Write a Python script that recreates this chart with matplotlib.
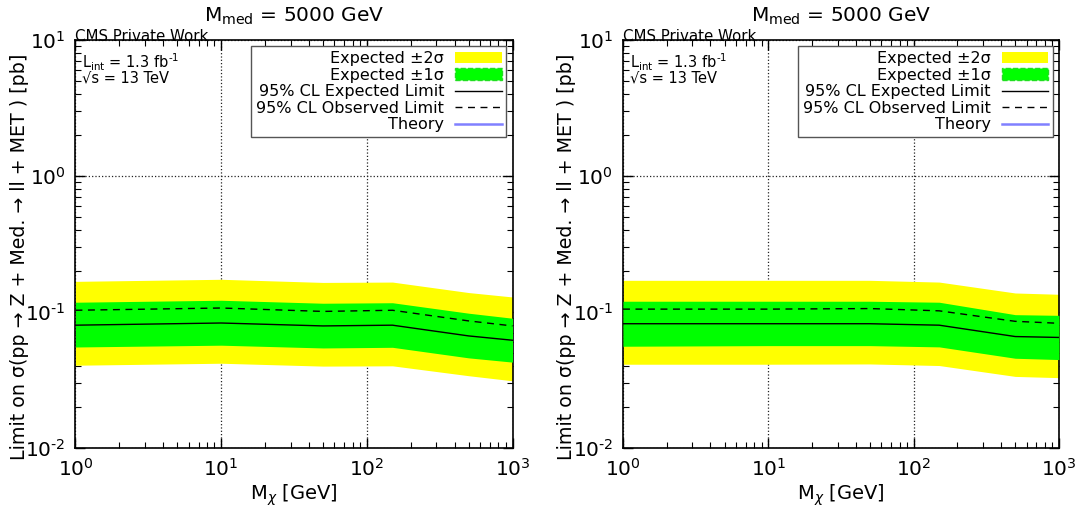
import numpy as np
import matplotlib
matplotlib.use("Agg")
import matplotlib.pyplot as plt
from matplotlib.lines import Line2D
from matplotlib.patches import Patch
from matplotlib.ticker import FuncFormatter

# dark matter mass points [GeV]
mchi = [1, 10, 50, 150, 500, 1000]

# left panel limits [pb]
left_up2 = [0.168, 0.174, 0.165, 0.166, 0.139, 0.129]
left_up1 = [0.118, 0.122, 0.116, 0.117, 0.098, 0.090]
left_obs = [0.103, 0.107, 0.101, 0.103, 0.086, 0.079]
left_exp = [0.080, 0.083, 0.079, 0.080, 0.0667, 0.062]
left_dn1 = [0.0553, 0.057, 0.0544, 0.055, 0.046, 0.0428]
left_dn2 = [0.0406, 0.042, 0.040, 0.0402, 0.034, 0.0312]

# right panel limits [pb]
right_up2 = [0.171, 0.171, 0.171, 0.166, 0.138, 0.135]
right_up1 = [0.120, 0.120, 0.120, 0.118, 0.0956, 0.0945]
right_obs = [0.105, 0.105, 0.106, 0.102, 0.0854, 0.0826]
right_exp = [0.082, 0.082, 0.082, 0.080, 0.066, 0.065]
right_dn1 = [0.056, 0.0566, 0.0566, 0.0554, 0.0457, 0.0447]
right_dn2 = [0.0413, 0.0413, 0.0415, 0.0404, 0.0336, 0.0329]

panels = [
    (left_up2, left_up1, left_obs, left_exp, left_dn1, left_dn2),
    (right_up2, right_up1, right_obs, right_exp, right_dn1, right_dn2),
]


# 10^n labels with a short hyphen in the exponent
def pow10(v, pos):
    e = int(round(np.log10(v)))
    return r"$\mathdefault{10^{%s}}$" % str(e).replace("-", "\u2010")


fig = plt.figure(figsize=(10.81, 5.15), dpi=100)
ax_rects = [[0.0698, 0.1301, 0.4043, 0.7922], [0.5763, 0.1301, 0.4033, 0.7922]]

for rect, (up2, up1, obs, exp, dn1, dn2) in zip(ax_rects, panels):
    ax = fig.add_axes(rect)
    ax.set_xscale("log")
    ax.set_yscale("log")
    ax.set_xlim(1, 1000)
    ax.set_ylim(0.01, 10)
    ax.xaxis.set_major_formatter(FuncFormatter(pow10))
    ax.yaxis.set_major_formatter(FuncFormatter(pow10))

    ax.fill_between(mchi, dn2, up2, color="#ffff00", lw=0, zorder=2)
    ax.fill_between(mchi, dn1, up1, color="#00ff00", lw=0, zorder=3)
    ax.plot(mchi, exp, color="black", lw=1.0, zorder=4)
    ax.plot(mchi, obs, color="black", lw=1.0, ls=(0, (5, 4)), zorder=4)

    ax.grid(True, which="major", ls=":", color="#222222", lw=0.9, zorder=0)
    ax.set_axisbelow(True)
    ax.tick_params(which="both", direction="in", top=True, right=True,
                   labelsize=14.5, pad=7)
    ax.tick_params(which="major", length=7, width=1)
    ax.tick_params(which="minor", length=4, width=0.8)
    for s in ax.spines.values():
        s.set_linewidth(1.2)

    ax.set_title(r"M$_{\mathregular{med}}$ = 5000 GeV", fontsize=14.5, pad=13)
    ax.set_xlabel(r"M$_{\chi}$ [GeV]", fontsize=14, labelpad=2)
    ax.set_ylabel("Limit on σ(pp → Z + Med. → ll + MET ) [pb]", fontsize=13.7)
    ax.yaxis.set_label_coords(-0.107, 0.468)

    ax.text(0.0, 0.997, "CMS Private Work", transform=ax.transAxes,
            fontsize=10.8, ha="left", va="baseline")
    ax.text(0.015, 0.931, "L$_{\\mathregular{int}}$ = 1.3 fb$^{\\mathregular{\u20101}}$",
            transform=ax.transAxes, fontsize=10.5, ha="left", va="baseline")
    ax.text(0.015, 0.895, "√s = 13 TeV", transform=ax.transAxes,
            fontsize=10.5, ha="left", va="baseline")

    handles = [
        Patch(facecolor="#ffff00", edgecolor="none"),
        Patch(facecolor="#00ff00", edgecolor="#22dd22", ls="--", lw=1),
        Line2D([], [], color="black", lw=1.0),
        Line2D([], [], color="black", lw=1.0, ls=(0, (5, 4))),
        Line2D([], [], color="#8080ff", lw=1.8),
    ]
    labels = ["Expected ±2σ", "Expected ±1σ", "95% CL Expected Limit",
              "95% CL Observed Limit", "Theory"]
    leg = ax.legend(handles, labels, loc="upper right", markerfirst=False,
                    fontsize=11.5, fancybox=False, framealpha=1,
                    edgecolor="#555555", borderpad=0.3, labelspacing=0.1,
                    handlelength=2.9, handleheight=0.7, handletextpad=0.7,
                    borderaxespad=0, bbox_to_anchor=(0.986, 0.985))
    leg.get_frame().set_linewidth(1.0)

fig.savefig("out.png", dpi=100)
